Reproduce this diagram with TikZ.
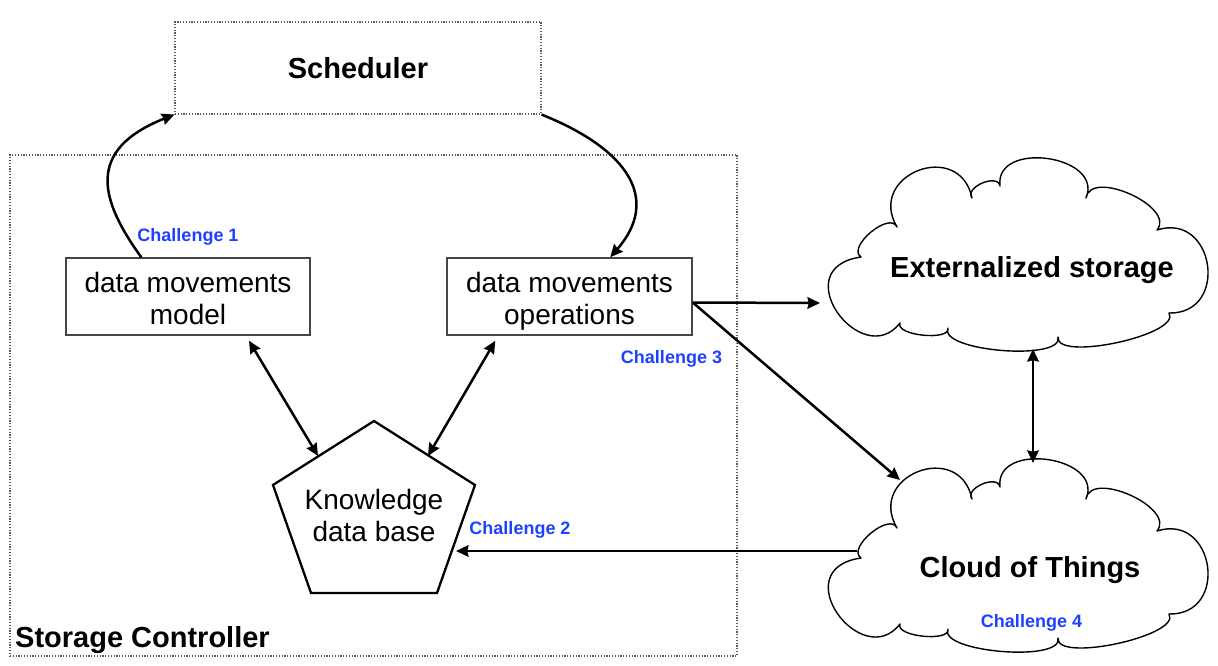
\documentclass[tikz,border=0pt]{standalone}
\usepackage{fontspec}
\setmainfont{Liberation Sans}
\usetikzlibrary{arrows.meta,calc}
\definecolor{chblue}{RGB}{30,65,255}
\definecolor{framegray}{RGB}{90,90,90}
\definecolor{boxgray}{RGB}{70,70,70}
\newcommand{\mycloudpath}{(75,67) .. controls (44,14.6) and (137.6,-21.6) .. (150,38)
 .. controls (142.1,27.3) and (175.7,12.9) .. (178,26)
 .. controls (172.3,-20.3) and (282.1,-4.9) .. (264,38)
 .. controls (268.6,8.3) and (354.2,46.9) .. (335,70)
 .. controls (392.9,51.5) and (407.7,154.3) .. (347,153)
 .. controls (359.9,174.7) and (233.3,202.1) .. (236,177)
 .. controls (242,201.6) and (116,191.2) .. (126,168)
 .. controls (128.6,181.3) and (72.6,175.5) .. (78,163)
 .. controls (40,212) and (-38,108) .. (39,97)
 .. controls (24.3,87.1) and (67.9,50.7) .. (75,67) -- cycle}
\begin{document}
\begin{tikzpicture}[x=1pt,y=-1pt,
  frame/.style={draw=framegray, line width=1.1pt, dash pattern=on 1.2pt off 1.6pt},
  boxshape/.style={draw=boxgray, line width=1.5pt, inner sep=0pt},
  boxtext/.style={align=center, inner sep=0pt, font=\fontsize{28}{32}\selectfont},
  big/.style={inner sep=0pt, font=\bfseries\fontsize{29}{33}\selectfont},
  chal/.style={text=chblue, inner sep=0pt, font=\bfseries\fontsize{18}{20}\selectfont},
  tip/.tip={Stealth[length=12.5pt,width=11.5pt,inset=1.2pt]},
  arr/.style={line width=2.5pt, -tip},
  darr/.style={line width=2.5pt, tip-tip},
  cloudline/.style={draw=black, line width=1.4pt, line join=round},
  pent/.style={draw=black, line width=2.3pt, line join=miter}]
\useasboundingbox (0,0) rectangle (1218,666);

% frames
\node[frame, minimum width=727pt, minimum height=501pt, inner sep=0pt] (sc) at (373.5,405.5) {};
\node[big, anchor=base west] (sclabel) at (15,647) {Storage Controller};
\node[frame, big, minimum width=366pt, minimum height=92pt] (sched) at (358,68) {Scheduler};

% boxes
\node[boxshape, minimum width=244pt, minimum height=77pt] (model) at (188,296.5) {};
\node[boxtext] (modeltxt) at (188,298.8) {data movements\\model};
\node[boxshape, minimum width=245pt, minimum height=77pt] (ops) at (569.5,296.5) {};
\node[boxtext] (opstxt) at (569.5,301.2) {data movements\\operations};

% pentagon
\coordinate (kb1) at (374,421);
\coordinate (kb2) at (475,485);
\coordinate (kb3) at (437,593);
\coordinate (kb4) at (311,593);
\coordinate (kb5) at (273,485);
\draw[pent] (kb1) -- (kb2) -- (kb3) -- (kb4) -- (kb5) -- cycle;
\node[boxtext] (kb) at (374,515.8) {Knowledge\\data base};
\coordinate (kbUL) at (318,456);
\coordinate (kbUR) at (428,456);
\coordinate (kbR) at (456,551);

% clouds
\begin{scope}[shift={(822,160)}]
\draw[cloudline] \mycloudpath;
\end{scope}
\node[big, anchor=base] (ext) at (1032,277) {Externalized storage};
\begin{scope}[shift={(822,461)}]
\draw[cloudline] \mycloudpath;
\end{scope}
\node[big, anchor=base] (cot) at (1030,577) {Cloud of Things};

\coordinate (extW) at (820,303);
\coordinate (extS) at (1033,349);
\coordinate (cotN) at (1033,463);
\coordinate (cotNW) at (900,480);
\coordinate (cotW) at (857,551);

% challenge labels
\node[chal, anchor=base] (ch1) at (188,241) {Challenge 1};
\node[chal, anchor=base] (ch3) at (671.5,363) {Challenge 3};
\node[chal, anchor=base] (ch2) at (520,534) {Challenge 2};
\node[chal, anchor=base] (ch4) at (1031.5,627) {Challenge 4};

% connectors
\draw[arr] ($(model.north west)+(76,0)$) .. controls (100,200) and (85,150) .. (sched.south west);
\draw[arr] (sched.south east) .. controls (630,150) and (660,200) .. ($(ops.north west)+(164,0)$);
\draw[darr] ($(model.south)+(61,5)$) -- (kbUL);
\draw[darr] ($(ops.south west)+(49,5)$) -- (kbUR);
\draw[arr] ($(ops.east)+(0,6)$) -- (extW);
\draw[arr] ($(ops.east)+(0,6)$) -- (cotNW);
\draw[darr] (extS) -- (cotN);
\draw[arr] (cotW) -- (kbR);
\end{tikzpicture}
\end{document}
